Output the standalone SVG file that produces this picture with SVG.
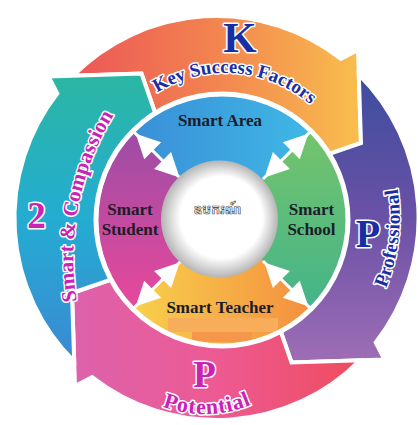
<svg xmlns="http://www.w3.org/2000/svg" width="418" height="425" viewBox="0 0 418 425">
<style>
.arw{stroke:#fff;stroke-width:4;stroke-linejoin:miter}
.quad{stroke:none}
.lbl{font-family:"Liberation Serif","Times New Roman",serif;font-weight:bold;font-size:17px;fill:#1c1c2a;text-anchor:middle}
.big{font-family:"Liberation Serif","Times New Roman",serif;font-weight:bold;text-anchor:middle;stroke:#fff;stroke-width:3;paint-order:stroke;stroke-linejoin:round}
.blue{fill:#1a2ea3}
.mag{fill:#c922b4}
.cur{font-family:"Liberation Serif","Times New Roman",serif;font-weight:bold;stroke:#fff;stroke-width:3;paint-order:stroke;stroke-linejoin:round}
.dbl line{stroke:#fff;stroke-width:3}
.dbl polygon{fill:#fff}
</style>
<defs>
<linearGradient id="gO" gradientUnits="userSpaceOnUse" x1="-150" y1="0" x2="150" y2="0"><stop offset="0" stop-color="#ec5458"/><stop offset="0.45" stop-color="#f27f50"/><stop offset="1" stop-color="#f9c14d"/></linearGradient>
<linearGradient id="gP" gradientUnits="userSpaceOnUse" x1="-150" y1="0" x2="150" y2="0"><stop offset="0" stop-color="#3b4d9e"/><stop offset="0.5" stop-color="#6a51a6"/><stop offset="1" stop-color="#a06fb6"/></linearGradient>
<linearGradient id="gK" gradientUnits="userSpaceOnUse" x1="-150" y1="0" x2="150" y2="0"><stop offset="0" stop-color="#ef4b5a"/><stop offset="0.5" stop-color="#ed5a93"/><stop offset="1" stop-color="#dc62ad"/></linearGradient>
<linearGradient id="gT" gradientUnits="userSpaceOnUse" x1="-150" y1="0" x2="150" y2="0"><stop offset="0" stop-color="#3c88d2"/><stop offset="0.5" stop-color="#24acd2"/><stop offset="1" stop-color="#2bb7a0"/></linearGradient>
<linearGradient id="qTop" gradientUnits="userSpaceOnUse" x1="134" y1="0" x2="310" y2="0"><stop offset="0" stop-color="#3a8fd8"/><stop offset="1" stop-color="#3fb7e5"/></linearGradient>
<linearGradient id="qRight" gradientUnits="userSpaceOnUse" x1="0" y1="132" x2="0" y2="308"><stop offset="0" stop-color="#74c46c"/><stop offset="1" stop-color="#44b48a"/></linearGradient>
<linearGradient id="qBottom" gradientUnits="userSpaceOnUse" x1="134" y1="0" x2="310" y2="0"><stop offset="0" stop-color="#f8d04c"/><stop offset="1" stop-color="#f48f3f"/></linearGradient>
<linearGradient id="qLeft" gradientUnits="userSpaceOnUse" x1="0" y1="132" x2="0" y2="308"><stop offset="0" stop-color="#9c4da6"/><stop offset="1" stop-color="#e8489a"/></linearGradient>
<radialGradient id="gC" cx="0.5" cy="0.5" r="0.5" fx="0.55" fy="0.45"><stop offset="0" stop-color="#ffffff"/><stop offset="0.7" stop-color="#ffffff"/><stop offset="1" stop-color="#b5b5b5"/></radialGradient>
<path id="pKSF" d="M97.5,189.2 A129,129 0 0 1 354.7,208.6"/>
<path id="pSC" d="M290.4,526.3 A274,274 0 0 1 396.9,-11.2"/>
<path id="pPro" d="M196.6,402.9 A186,186 0 0 0 239.6,33.5"/>
<path id="pPot" d="M85.6,299.9 A119,119 0 0 0 323.5,294.1"/>
</defs>

<g id="outer-ring" transform="translate(216.5,218)">
<g id="arrow-key-success">
<path class="arw" fill="url(#gO)" d="M-143.4,-142.3 A202,202 0 0 1 124.4,-159.2 L141.5,-168 L144.5,-75 L103.5,-60.8 A120,120 0 0 0 -60.8,-103.5 L-75,-144.5 Z"/>
</g>
<g id="arrow-professional">
<path class="arw" fill="url(#gP)" transform="rotate(90)" d="M-143.4,-142.3 A202,202 0 0 1 124.4,-159.2 L141.5,-168 L144.5,-75 L103.5,-60.8 A120,120 0 0 0 -60.8,-103.5 L-75,-144.5 Z"/>
</g>
<g id="arrow-potential">
<path class="arw" fill="url(#gK)" transform="rotate(180)" d="M-143.4,-142.3 A202,202 0 0 1 124.4,-159.2 L141.5,-168 L144.5,-75 L103.5,-60.8 A120,120 0 0 0 -60.8,-103.5 L-75,-144.5 Z"/>
</g>
<g id="arrow-smart-compassion">
<path class="arw" fill="url(#gT)" transform="rotate(270)" d="M-143.4,-142.3 A202,202 0 0 1 124.4,-159.2 L141.5,-168 L144.5,-75 L103.5,-60.8 A120,120 0 0 0 -60.8,-103.5 L-75,-144.5 Z"/>
</g>
</g>

<g id="outer-labels">
<g id="label-k">
<text class="big blue" x="240" y="52" font-size="43">K</text>
<text class="cur blue" font-size="19"><textPath href="#pKSF" startOffset="50%" text-anchor="middle">Key Success Factors</textPath></text>
</g>
<g id="label-p-professional">
<text class="big blue" x="368" y="247" font-size="40">P</text>
<text class="cur blue" font-size="19.5"><textPath href="#pPro" startOffset="50%" text-anchor="middle">Professional</textPath></text>
</g>
<g id="label-p-potential">
<text class="big mag" x="204.5" y="387" font-size="37">P</text>
<text class="cur mag" font-size="22" letter-spacing="0.8"><textPath href="#pPot" startOffset="50%" text-anchor="middle">Potential</textPath></text>
</g>
<g id="label-2">
<text class="big mag" x="36.5" y="228" font-size="37">2</text>
<text class="cur mag" font-size="21"><textPath href="#pSC" startOffset="50%" text-anchor="middle">Smart &amp; Compassion</textPath></text>
</g>
</g>

<g id="inner-disc">
<g id="node-smart-area">
<path class="quad" fill="url(#qTop)" d="M222,220 L134.3,132.3 A124,124 0 0 1 309.7,132.3 Z"/>
<text class="lbl" x="220" y="126">Smart Area</text>
</g>
<g id="node-smart-school">
<path class="quad" fill="url(#qRight)" d="M222,220 L309.7,132.3 A124,124 0 0 1 309.7,307.7 Z"/>
<text class="lbl" x="311.5" y="215">Smart</text>
<text class="lbl" x="311.5" y="235">School</text>
</g>
<g id="node-smart-teacher">
<path class="quad" fill="url(#qBottom)" d="M222,220 L309.7,307.7 A124,124 0 0 1 134.3,307.7 Z"/>
<rect x="168" y="318" width="110" height="14" fill="#f8ad5a"/>
<rect x="192" y="332" width="60" height="10" fill="#f4974a"/>
<text class="lbl" x="220" y="313">Smart Teacher</text>
</g>
<g id="node-smart-student">
<path class="quad" fill="url(#qLeft)" d="M222,220 L134.3,307.7 A124,124 0 0 1 134.3,132.3 Z"/>
<text class="lbl" x="130" y="215">Smart</text>
<text class="lbl" x="130" y="235">Student</text>
</g>
<circle cx="222" cy="220" r="126" fill="none" stroke="#fff" stroke-width="5"/>
</g>

<g id="connectors">
<g class="dbl" transform="translate(222,220) rotate(-135)"><line x1="58" y1="0" x2="124" y2="0"/><polygon points="122,0 98,-12 98,12"/><polygon points="60,0 84,-12 84,12"/></g>
<g class="dbl" transform="translate(222,220) rotate(-45)"><line x1="58" y1="0" x2="124" y2="0"/><polygon points="122,0 98,-12 98,12"/><polygon points="60,0 84,-12 84,12"/></g>
<g class="dbl" transform="translate(222,220) rotate(45)"><line x1="58" y1="0" x2="124" y2="0"/><polygon points="122,0 98,-12 98,12"/><polygon points="60,0 84,-12 84,12"/></g>
<g class="dbl" transform="translate(222,220) rotate(135)"><line x1="58" y1="0" x2="124" y2="0"/><polygon points="122,0 98,-12 98,12"/><polygon points="60,0 84,-12 84,12"/></g>
</g>

<g id="node-center">
<circle cx="219.5" cy="219" r="58.5" fill="url(#gC)"/>
<text x="217.5" y="214" font-family="'Noto Sans Khmer','Noto Serif Khmer','Khmer OS','Noto Sans',sans-serif" font-size="13" font-weight="bold" fill="#fff" stroke="#555" stroke-width="0.7" text-anchor="middle">ឧបករណ៍</text>
</g>
</svg>
